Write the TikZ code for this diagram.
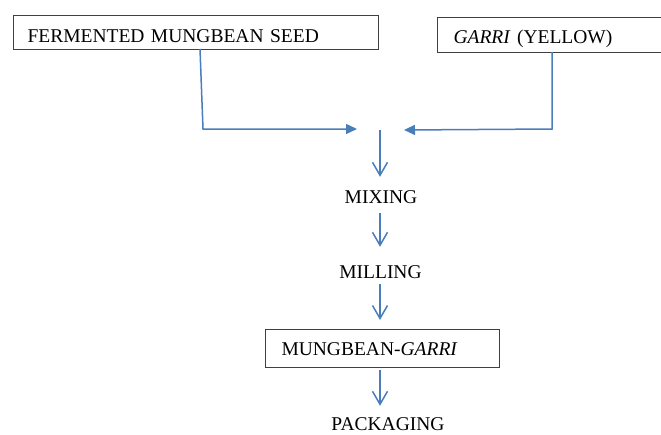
\documentclass[tikz,border=0pt]{standalone}
\usepackage{fontspec}
\setmainfont{Liberation Serif}
\usetikzlibrary{arrows.meta}
\definecolor{flow}{HTML}{4A7EBB}
\begin{document}
\begin{tikzpicture}[x=1pt,y=-1pt,
  font=\fontsize{19.5}{23}\selectfont,
  box/.style={draw=black!75, line width=1pt, anchor=north west, inner ysep=0pt, align=left, text depth=0pt},
  lab/.style={inner sep=0pt, text height=13pt, text depth=0pt, anchor=base},
  flowline/.style={draw=flow, line width=1.5pt, -{Triangle[length=11pt,width=10pt]}},
  varrow/.style={draw=flow, line width=1.5pt, -{Straight Barb[length=13pt,width=15pt]}}]
\useasboundingbox (0,0) rectangle (661,434);
\clip (0,0) rectangle (661,434);
\node[box, minimum width=365pt, minimum height=34pt, inner xsep=14pt, text width=337pt, text height=19pt] (b1) at (13,15) {FERMENTED MUNGBEAN SEED};
\node[box, minimum width=250pt, minimum height=35pt, inner xsep=16pt, text width=218pt, text height=17pt] (b2) at (437,17) {\textit{GARRI} (YELLOW)};
\node[box, minimum width=234pt, minimum height=38pt, inner xsep=16pt, text width=202pt, text height=14pt] (b3) at (265,329) {MUNGBEAN-\textit{GARRI}};
\node[lab] (mix) at (381,203) {MIXING};
\node[lab] (mill) at (380.5,278) {MILLING};
\node[lab] (pack) at (388,430) {PACKAGING};
\coordinate (c1) at (200,49);
\coordinate (c1b) at (203,129);
\coordinate (jl) at (357,129);
\coordinate (c2) at (552,52);
\coordinate (c2b) at (552,129);
\coordinate (jr) at (404,130);
\coordinate (jc) at (380,130);
\draw[flowline] (c1) -- (c1b) -- (jl);
\draw[flowline] (c2) -- (c2b) -- (jr);
\draw[varrow, shorten >=13pt] (jc) -- (jc |- mix.north);
\draw[varrow, shorten <=10pt, shorten >=18pt] (jc |- mix.south) -- (jc |- mill.north);
\draw[varrow, shorten <=6pt, shorten >=9pt] (jc |- mill.south) -- (jc |- b3.north);
\draw[varrow, shorten <=2pt, shorten >=11pt] (jc |- b3.south) -- (jc |- pack.north);
\end{tikzpicture}
\end{document}
